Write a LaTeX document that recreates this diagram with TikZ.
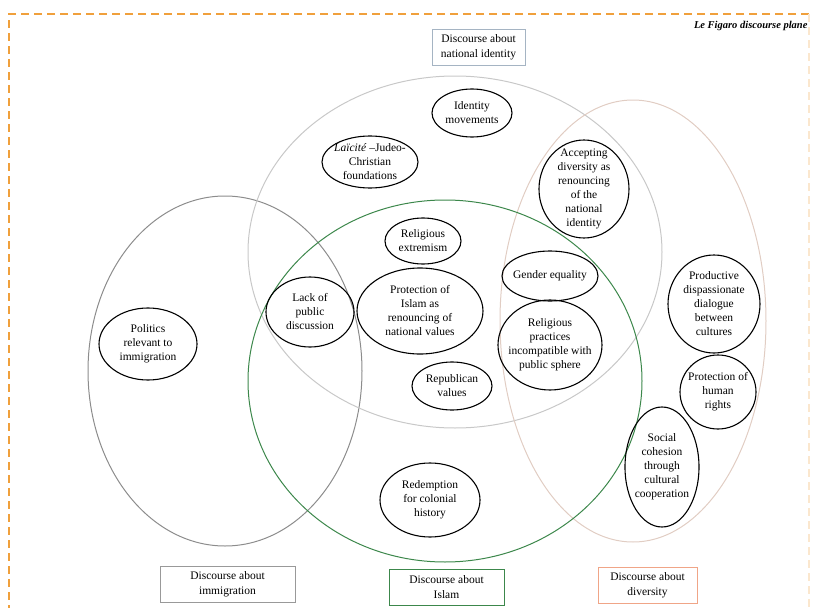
\documentclass[tikz,border=0pt]{standalone}
\usepackage{fontspec}
\setmainfont{Liberation Serif}
\definecolor{planeorange}{RGB}{240,160,60}
\definecolor{islamgreen}{RGB}{60,135,75}
\definecolor{identgray}{RGB}{200,200,200}
\definecolor{divpink}{RGB}{225,205,195}
\definecolor{divorange}{RGB}{240,165,135}
\definecolor{identblue}{RGB}{165,180,195}
\begin{document}
\begin{tikzpicture}[x=1pt, y=-1pt,
    topic/.style={inner sep=0pt, align=center, font=\fontsize{11.5}{14}\selectfont},
    ring/.style={line width=1.1pt},
    field/.style={line width=1pt},
    caption/.style={draw, line width=0.9pt, inner sep=0pt, align=center,
      minimum height=36pt, font=\fontsize{11.5}{15}\selectfont}]
  \useasboundingbox (0,0) rectangle (815,608);
  \begin{scope}
    \clip (0,0) rectangle (815,608);
    % plane border
    \draw[planeorange, line width=1.8pt, dash pattern=on 8pt off 5pt]
      (809,14) -- (9,14) -- (9,620);
    \draw[planeorange!25, line width=1.2pt, dash pattern=on 8pt off 5pt]
      (809,14) -- (809,620);
  \end{scope}
  \node[anchor=east, font=\fontsize{10.5}{12}\selectfont\bfseries\itshape] (plane)
    at (811,26) {Le Figaro discourse plane};
  % discourse fields
  \draw[field, gray!90] (225,371) ellipse [x radius=137pt, y radius=175pt];
  \draw[field, identgray] (455,252) ellipse [x radius=207pt, y radius=176pt];
  \draw[field, divpink] (633,321) ellipse [x radius=133pt, y radius=221pt];
  \draw[field, islamgreen] (445,381) ellipse [x radius=197pt, y radius=181pt];
  % captions
  \node[caption, draw=identblue, minimum width=93pt] (identity) at (478.5,47)
    {Discourse about\\national identity};
  \node[caption, draw=gray!80, minimum width=135pt] (immigration) at (227.5,584.5)
    {Discourse about\\immigration};
  \node[caption, draw=islamgreen, minimum width=115pt] (islam) at (446.5,587)
    {Discourse about\\Islam};
  \node[caption, draw=divorange, minimum width=99pt] (diversity) at (647.5,585.5)
    {Discourse about\\diversity};
  % topics
  \node[topic] (idmov) at (472,113) {Identity\\movements};
  \draw[ring] (idmov) ellipse [x radius=40pt, y radius=24pt];
  \node[topic] (laicite) at (370,162) {\textit{Laïcité} –Judeo-\\Christian\\foundations};
  \draw[ring] (laicite) ellipse [x radius=48pt, y radius=26pt];
  \node[topic] (accept) at (584,189)
    {Accepting\\diversity as\\renouncing\\of the\\national\\identity};
  \draw[ring] (accept) ellipse [x radius=45pt, y radius=49pt];
  \node[topic] (extrem) at (423,241) {Religious\\extremism};
  \draw[ring] (extrem) ellipse [x radius=38pt, y radius=23pt];
  \node[topic] (gender) at (550,276) {Gender\ equality};
  \draw[ring] (gender) ellipse [x radius=48pt, y radius=25pt];
  \node[topic] (practices) at (550,345)
    {Religious\\practices\\incompatible with\\public sphere};
  \draw[ring] (practices) ellipse [x radius=52pt, y radius=45pt];
  \node[topic] (protect) at (420,311)
    {Protection of\\Islam as\\renouncing of\\national values};
  \draw[ring] (protect) ellipse [x radius=63pt, y radius=43pt];
  \node[topic] (lack) at (310,312) {Lack of\\public\\discussion};
  \draw[ring] (lack) ellipse [x radius=44pt, y radius=35pt];
  \node[topic] (republic) at (452,386) {Republican\\values};
  \draw[ring] (republic) ellipse [x radius=40pt, y radius=24pt];
  \node[topic] (politics) at (148,344) {Politics\\relevant to\\immigration};
  \draw[ring] (politics) ellipse [x radius=49pt, y radius=36pt];
  \node[topic] (dialogue) at (714,304)
    {Productive\\dispassionate\\dialogue\\between\\cultures};
  \draw[ring] (dialogue) ellipse [x radius=46pt, y radius=49pt];
  \node[topic] (rights) at (718,392) {Protection of\\human\\rights};
  \draw[ring] (rights) ellipse [x radius=38pt, y radius=37pt];
  \node[topic] (cohesion) at (662,467)
    {Social\\cohesion\\through\\cultural\\cooperation};
  \draw[ring] (cohesion) ellipse [x radius=37pt, y radius=60pt];
  \node[topic] (redemption) at (430,500) {Redemption\\for colonial\\history};
  \draw[ring] (redemption) ellipse [x radius=50pt, y radius=37pt];
\end{tikzpicture}
\end{document}
